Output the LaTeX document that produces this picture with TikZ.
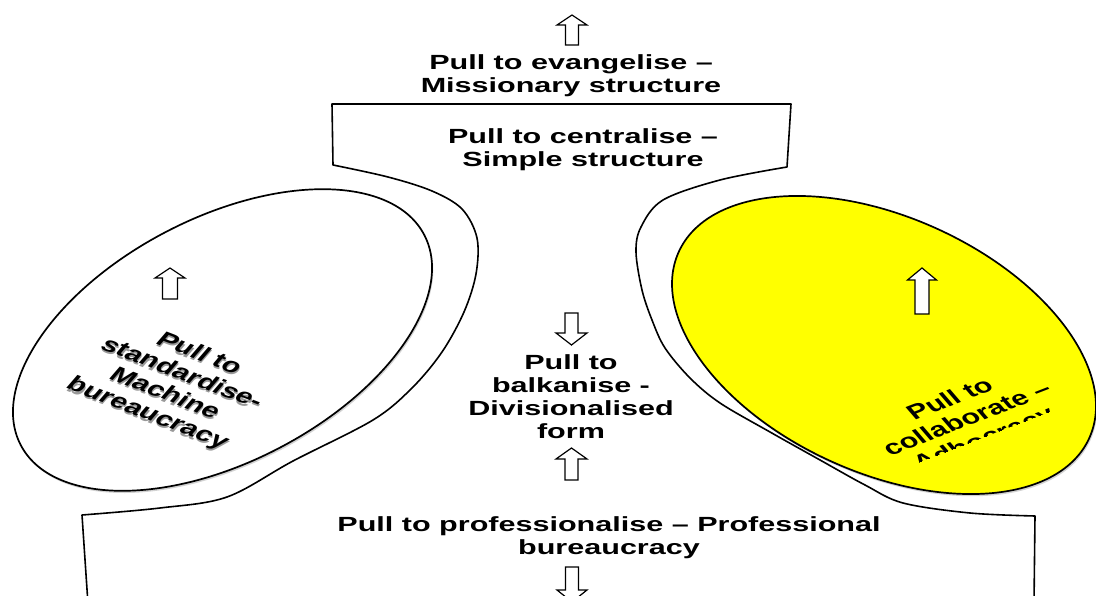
\documentclass[tikz,border=0pt]{standalone}
\usepackage{fontspec}
\newfontfamily\lblfont{Liberation Sans}
\usetikzlibrary{shadows}
\newcommand{\hstretch}{1.49}
\definecolor{ovalyellow}{RGB}{255,255,0}

\tikzset{
  lbl/.style={font=\lblfont\bfseries\fontsize{20.5}{23}\selectfont, align=center, inner sep=0pt},
  contour/.style={line width=1.6pt, line join=round},
  oval/.style={line width=1.7pt,
    drop shadow={shadow xshift=1.2pt, shadow yshift=-2.2pt, fill=black!35}},
  blockarr/.style={line width=1.2pt, fill=white, line join=miter},
}

% block arrow pointing up: x, tip y, tail y, head length, head half width, shaft half width
\newcommand{\uparr}[6]{%
  \draw[blockarr] (#1,#2) -- (#1+#5,#2+#4) -- (#1+#6,#2+#4) -- (#1+#6,#3)
    -- (#1-#6,#3) -- (#1-#6,#2+#4) -- (#1-#5,#2+#4) -- cycle;}
% block arrow pointing down: x, tip y, tail y, head length, head half width, shaft half width
\newcommand{\downarr}[6]{%
  \draw[blockarr] (#1,#2) -- (#1+#5,#2-#4) -- (#1+#6,#2-#4) -- (#1+#6,#3)
    -- (#1-#6,#3) -- (#1-#6,#2-#4) -- (#1-#5,#2-#4) -- cycle;}
% widened bold label: name, x, y, rotation, text
\newcommand{\widelabel}[5]{%
  \begin{scope}[shift={(#2,#3)}, xscale=\hstretch, rotate=#4, transform shape]
    \node[lbl] (#1) at (0,0) {#5};
  \end{scope}}

\begin{document}
\begin{tikzpicture}[x=1pt, y=-1pt]
  \useasboundingbox (0,0) rectangle (1096,596);
  \clip (0,0) rectangle (1096,596);
  \fill[white] (0,0) rectangle (1096,596);

  % outline of the five-way frame
  \draw[contour]
    (88,604) -- (82,515)
    -- plot[smooth, tension=0.55] coordinates {(82,515) (160,508) (227,497) (293,461)
        (373,420) (412,388) (442,352) (464,312) (476,274) (477,238) (462,209)
        (432,191) (388,177) (333,165)}
    -- (332,104) -- (791,104) -- (787,167)
    -- plot[smooth, tension=0.55] coordinates {(787,167) (720,180) (663,200) (641,227)
        (636,252) (642,290) (652,320) (665,348) (690,378) (720,403) (770,432)
        (820,460) (865,485) (903,503) (970,513) (1035,516)}
    -- (1034,604);

  % the two side ovals
  \draw[oval, fill=white, rotate around={27.5:(222.5,340)}]
    (222.5,340) ellipse [x radius=227.5, y radius=122];
  \draw[oval, fill=ovalyellow, rotate around={-24.4:(884,345)}]
    (884,345) ellipse [x radius=225.4, y radius=127.8];

  % block arrows
  \uparr{572}{15}{45}{10}{15}{6.5}
  \uparr{170}{268}{299}{10}{15}{7.5}
  \uparr{922}{268}{314}{12}{14.5}{7}
  \downarr{571.5}{345}{313}{12}{15.5}{6.5}
  \uparr{571.5}{448}{480}{11}{15.5}{6.5}
  \downarr{572}{602}{567}{12}{15}{6.5}

  % labels
  \widelabel{evangelise}{571}{76}{0}{Pull to evangelise –\\Missionary structure}
  \widelabel{centralise}{583}{150}{0}{Pull to centralise –\\Simple structure}
  \widelabel{balkanise}{571}{397}{0}{Pull to\\balkanise -\\Divisionalised\\form}
  \widelabel{professionalise}{609}{538}{0}{Pull to professionalise – Professional\\bureaucracy}

  % label inside the left oval, with its shadow
  \begin{scope}[shift={(173,384)}, xscale=\hstretch, rotate=-30, transform shape]
    \node[lbl, text=black!40] (standardiseshadow) at (1.2,1.8)
      {Pull to\\standardise-\\Machine\\bureaucracy};
    \node[lbl] (standardise) at (0,0) {Pull to\\standardise-\\Machine\\bureaucracy};
  \end{scope}

  % label inside the yellow oval, its last line cut by the text frame
  \begin{scope}[shift={(968,420)}, xscale=\hstretch, rotate=30, transform shape]
    \clip (-170,-60) rectangle (170,20);
    \node[lbl] (collaborate) at (0,0) {Pull to\\collaborate –\\Adhocracy};
  \end{scope}
\end{tikzpicture}
\end{document}
